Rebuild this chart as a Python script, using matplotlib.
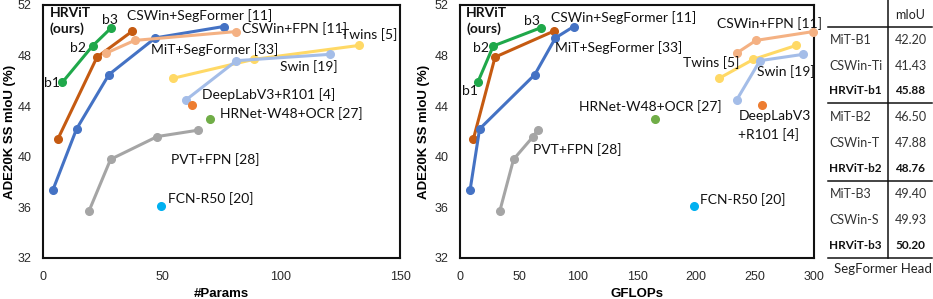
import matplotlib
matplotlib.use('Agg')
import matplotlib.pyplot as plt
from matplotlib.lines import Line2D

LABEL_FONT = ['Lato', 'DejaVu Sans']
AXIS_FONT = ['Liberation Sans', 'DejaVu Sans']

# --- data: (params [M], GFLOPs, mIoU) per model family ---
hrvit_params = [8.1, 20.8, 28.7]
hrvit_flops = [15.0, 28.2, 68.4]
hrvit_miou = [45.88, 48.76, 50.20]

cswin_seg_params = [6.3, 22.7, 37.5]
cswin_seg_flops = [11.4, 29.7, 79.4]
cswin_seg_miou = [41.43, 47.88, 49.93]

mit_params = [4.2, 14.1, 27.7, 47.2, 75.9]
mit_flops = [8.6, 16.6, 63.4, 80.9, 96.4]
mit_miou = [37.4, 42.2, 46.5, 49.4, 50.3]

cswin_fpn_params = [26.6, 38.5, 81.2]
cswin_fpn_flops = [234.5, 250.8, 299.4]
cswin_fpn_miou = [48.2, 49.2, 49.9]

twins_params = [54.5, 88.5, 132.6]
twins_flops = [219.5, 248.6, 284.7]
twins_miou = [46.2, 47.7, 48.8]

swin_params = [60.1, 81.3, 120.6]
swin_flops = [234.5, 254.2, 290.9]
swin_miou = [44.5, 47.6, 48.1]

pvt_params = [19.3, 28.4, 48.0, 65.0]
pvt_flops = [33.7, 45.4, 62.0, 65.7]
pvt_miou = [35.7, 39.8, 41.6, 42.1]

deeplab_params, deeplab_flops, deeplab_miou = [62.6], [255.9], [44.1]
hrnet_params, hrnet_flops, hrnet_miou = [70.3], [165.3], [43.0]
fcn_params, fcn_flops, fcn_miou = [49.6], [198.3], [36.1]

# --- table ---
table_models = ['MiT-B1', 'CSWin-Ti', 'HRViT-b1', 'MiT-B2', 'CSWin-T', 'HRViT-b2',
                'MiT-B3', 'CSWin-S', 'HRViT-b3']
table_miou = ['42.20', '41.43', '45.88', '46.50', '47.88', '48.76', '49.40', '49.93', '50.20']

series = [
    # name, params, flops, miou, color, line?
    ('hrvit', hrvit_params, hrvit_flops, hrvit_miou, '#1fa84a', True),
    ('cswin_seg', cswin_seg_params, cswin_seg_flops, cswin_seg_miou, '#c55a11', True),
    ('mit', mit_params, mit_flops, mit_miou, '#4472c4', True),
    ('cswin_fpn', cswin_fpn_params, cswin_fpn_flops, cswin_fpn_miou, '#f4b183', True),
    ('twins', twins_params, twins_flops, twins_miou, '#ffd966', True),
    ('swin', swin_params, swin_flops, swin_miou, '#a4bde8', True),
    ('pvt', pvt_params, pvt_flops, pvt_miou, '#a5a5a5', True),
    ('deeplab', deeplab_params, deeplab_flops, deeplab_miou, '#ed7d31', False),
    ('hrnet', hrnet_params, hrnet_flops, hrnet_miou, '#70ad47', False),
    ('fcn', fcn_params, fcn_flops, fcn_miou, '#00b0f0', False),
]

W, H = 933, 299
fig = plt.figure(figsize=(W / 100, H / 100), dpi=100)
ax_p = fig.add_axes([43 / W, 1 - 258 / H, 357 / W, 253 / H])
ax_f = fig.add_axes([460 / W, 1 - 258 / H, 354 / W, 253 / H])


def style_axes(ax, xmax, xlabel, ylab_x):
    ax.set_xlim(0, xmax)
    ax.set_ylim(32, 52)
    ax.set_yticks([32, 36, 40, 44, 48, 52])
    ax.set_xticks(range(0, xmax + 1, 50))
    ax.tick_params(length=0, labelsize=9, labelcolor='#2a2a2a')
    ax.tick_params(axis='x', pad=9)
    ax.tick_params(axis='y', pad=8)
    for lab in ax.get_xticklabels() + ax.get_yticklabels():
        lab.set_family(AXIS_FONT)
    for s in ax.spines.values():
        s.set_linewidth(1.5)
        s.set_color('#111111')
    ax.set_xlabel(xlabel, fontsize=9.5, fontweight='bold', family=AXIS_FONT)
    ax.set_ylabel('ADE20K SS mIoU (%)', fontsize=9.5, fontweight='bold', family=AXIS_FONT)
    ax.xaxis.set_label_coords(0.5, -0.118)
    ax.yaxis.set_label_coords(ylab_x, 0.5)


for ax, idx in ((ax_p, 1), (ax_f, 2)):
    for s in series:
        ax.plot(s[idx], s[3], color=s[4], lw=2.2 if s[5] else 0, marker='o', ms=5.5,
                clip_on=False, zorder=3)

style_axes(ax_p, 150, '#Params', -0.076)
style_axes(ax_f, 300, 'GFLOPs', -0.085)


def txt(ax, x, y, s, **kw):
    kw.setdefault('fontsize', 10)
    kw.setdefault('va', 'center')
    kw.setdefault('ha', 'left')
    ax.text(x, y, s, family=LABEL_FONT, color='#111111', **kw)


# params panel labels
txt(ax_p, 2.8, 51.85, 'HRViT\n(ours)', fontweight='bold', va='top', linespacing=1.3)
txt(ax_p, 28.2, 50.8, 'b3', ha='center')
txt(ax_p, 18.2, 48.6, 'b2', ha='right')
txt(ax_p, 7.0, 45.8, 'b1', ha='right')
txt(ax_p, 35.5, 51.2, 'CSWin+SegFormer [11]')
txt(ax_p, 83.6, 50.1, 'CSWin+FPN [11]')
txt(ax_p, 125.3, 49.7, 'Twins [5]')
txt(ax_p, 45.4, 48.45, 'MiT+SegFormer [33]')
txt(ax_p, 99.7, 47.1, 'Swin [19]')
txt(ax_p, 66.6, 44.95, 'DeepLabV3+R101 [4]')
txt(ax_p, 74.2, 43.45, 'HRNet-W48+OCR [27]')
txt(ax_p, 53.8, 39.8, 'PVT+FPN [28]')
txt(ax_p, 52.7, 36.7, 'FCN-R50 [20]')

# GFLOPs panel labels
txt(ax_f, 5.1, 51.85, 'HRViT\n(ours)', fontweight='bold', va='top', linespacing=1.3)
txt(ax_f, 61.3, 50.7, 'b3', ha='center')
txt(ax_f, 24.9, 48.6, 'b2', ha='right')
txt(ax_f, 8.8, 45.2, 'b1', ha='center')
txt(ax_f, 77.1, 51.0, 'CSWin+SegFormer [11]')
txt(ax_f, 80.5, 48.6, 'MiT+SegFormer [33]')
txt(ax_f, 100.8, 44.0, 'HRNet-W48+OCR [27]')
txt(ax_f, 61.6, 40.6, 'PVT+FPN [28]')
txt(ax_f, 203.4, 36.6, 'FCN-R50 [20]')
txt(ax_f, 189.3, 47.45, 'Twins [5]')
txt(ax_f, 217.5, 50.5, 'CSWin+FPN [11]')
txt(ax_f, 252.0, 46.7, 'Swin [19]')
txt(ax_f, 235.9, 43.2, 'DeepLabV3')
txt(ax_f, 235.9, 41.75, '+R101 [4]')

# --- table drawn in figure pixel coords ---
def fx(px):
    return px / W


def fy(py):
    return 1 - py / H


tbl_left, tbl_mid, tbl_right = 828, 888, 932
row_y = [40, 65.7, 91, 117.3, 142.7, 168.3, 194.3, 220, 245.7]
for py in (26.7, 103.3, 181, 258.3):
    fig.add_artist(Line2D([fx(tbl_left), fx(tbl_right)], [fy(py), fy(py)], color='#111111', lw=1.1))
fig.add_artist(Line2D([fx(tbl_mid), fx(tbl_mid)], [fy(0), fy(258.3)], color='#111111', lw=1.1))
fig.text(fx(895), fy(15), 'mIoU', family=LABEL_FONT, fontsize=9, va='center', ha='left', color='#222222')
for name, val, py in zip(table_models, table_miou, row_y):
    bold = name.startswith('HRViT')
    fw = 'bold' if bold else 'normal'
    col = '#111111' if bold else '#333333'
    fs = 8.5 if bold else 9
    fig.text(fx(829.5), fy(py), name, family=LABEL_FONT, fontsize=fs, fontweight=fw, va='center', ha='left', color=col)
    fig.text(fx(895), fy(py), val, family=LABEL_FONT, fontsize=fs, fontweight=fw, va='center', ha='left', color=col)
fig.text(fx(834), fy(269), 'SegFormer Head', family=LABEL_FONT, fontsize=9.5, va='center', ha='left', color='#222222')

fig.savefig('out.png', dpi=100)
